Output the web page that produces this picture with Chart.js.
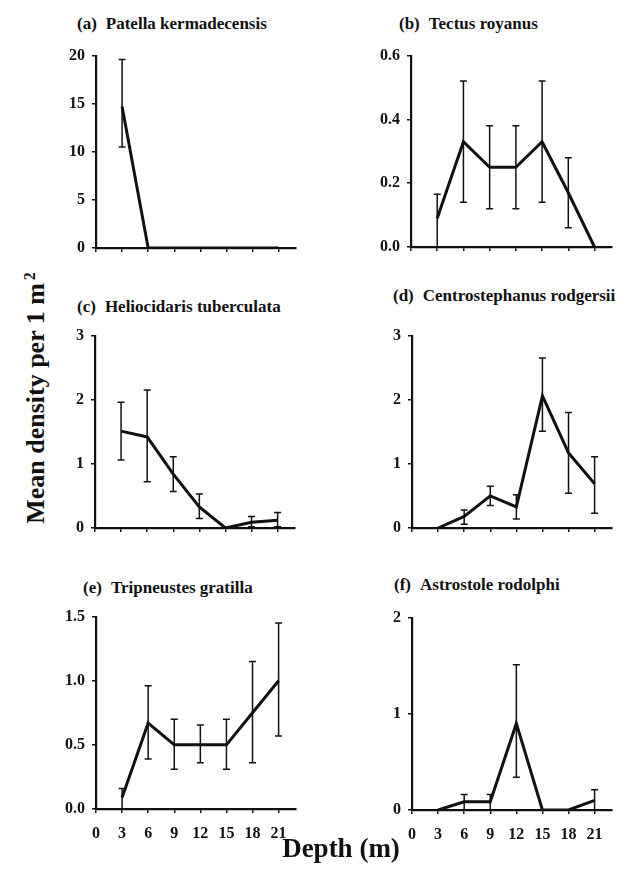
<!DOCTYPE html>
<html>
<head>
<meta charset="utf-8">
<script src="https://cdn.jsdelivr.net/npm/chart.js@4.4.0/dist/chart.umd.min.js"></script>
<style>
  body { margin: 0; background: #fff; }
  #fig { position: relative; width: 627px; height: 870px; overflow: hidden;
         font-family: "Liberation Serif", "DejaVu Serif", serif; color: #111; }
  canvas { position: absolute; }
  .title { position: absolute; font-size: 17px; font-weight: bold; white-space: nowrap; line-height: 16px; }
  .title b { margin-right: 9px; }
  #ylab { position: absolute; left: 36px; top: 398px; font-size: 26px; font-weight: bold; white-space: nowrap;
          line-height: 26px; transform: translate(-50%, -50%) rotate(-90deg); }
  #ylab sup { font-size: 16px; position: relative; top: -6px; vertical-align: top; margin-left: 3px; }
  #xlab { position: absolute; left: 341px; top: 848px; font-size: 27px; font-weight: bold; white-space: nowrap;
          line-height: 27px; transform: translate(-50%, -50%); }
</style>
</head>
<body>
<div id="fig">
  <div class="title" style="left:77px; top:16px"><b>(a)</b>Patella kermadecensis</div>
  <div class="title" style="left:399px; top:16px"><b>(b)</b>Tectus royanus</div>
  <div class="title" style="left:77px; top:299px"><b>(c)</b>Heliocidaris tuberculata</div>
  <div class="title" style="left:393px; top:288px"><b>(d)</b>Centrostephanus rodgersii</div>
  <div class="title" style="left:83px; top:580px"><b>(e)</b>Tripneustes gratilla</div>
  <div class="title" style="left:394px; top:577px"><b>(f)</b>Astrostole rodolphi</div>
  <canvas id="pa"></canvas>
  <canvas id="pb"></canvas>
  <canvas id="pc"></canvas>
  <canvas id="pd"></canvas>
  <canvas id="pe"></canvas>
  <canvas id="pf"></canvas>
  <div id="ylab">Mean density per 1 m<sup>2</sup></div>
  <div id="xlab">Depth (m)</div>
</div>
<script>
// depth in metres
const depths = [3, 6, 9, 12, 15, 18, 21];
const depthTicks = [0, 3, 6, 9, 12, 15, 18, 21];

// (a) Patella kermadecensis
const patellaMean = [14.7, 0, 0, 0, 0, 0, 0];
const patellaLow  = [10.5, null, null, null, null, null, null];
const patellaHigh = [19.6, null, null, null, null, null, null];
const patellaTicks = [0, 5, 10, 15, 20];

// (b) Tectus royanus
const tectusMean = [0.09, 0.33, 0.25, 0.25, 0.33, 0.17, 0];
const tectusLow  = [0, 0.14, 0.12, 0.12, 0.14, 0.06, null];
const tectusHigh = [0.165, 0.52, 0.38, 0.38, 0.52, 0.28, null];
const tectusTicks = [0, 0.2, 0.4, 0.6];

// (c) Heliocidaris tuberculata
const helioMean = [1.51, 1.42, 0.84, 0.33, 0, 0.09, 0.12];
const helioLow  = [1.06, 0.72, 0.57, 0.15, null, 0.02, 0.02];
const helioHigh = [1.96, 2.15, 1.11, 0.53, null, 0.18, 0.24];
const helioTicks = [0, 1, 2, 3];

// (d) Centrostephanus rodgersii
const centroMean = [0, 0.18, 0.5, 0.33, 2.06, 1.17, 0.69];
const centroLow  = [null, 0.06, 0.35, 0.14, 1.51, 0.54, 0.23];
const centroHigh = [null, 0.28, 0.65, 0.52, 2.65, 1.8, 1.11];
const centroTicks = [0, 1, 2, 3];

// (e) Tripneustes gratilla
const tripMean = [0.09, 0.67, 0.5, 0.5, 0.5, 0.75, 1.0];
const tripLow  = [0, 0.39, 0.31, 0.36, 0.31, 0.36, 0.57];
const tripHigh = [0.16, 0.96, 0.7, 0.655, 0.7, 1.15, 1.45];
const tripTicks = [0, 0.5, 1, 1.5];

// (f) Astrostole rodolphi
const astroMean = [0, 0.085, 0.085, 0.9, 0, 0, 0.1];
const astroLow  = [null, 0, 0, 0.34, null, null, 0];
const astroHigh = [null, 0.16, 0.16, 1.51, null, null, 0.21];
const astroTicks = [0, 1, 2];

const ink = '#111';
const tickFont = { family: '"Liberation Serif", serif', size: 16, weight: 'bold' };

// draws the vertical SE bars with small caps
const errorBars = {
  id: 'errorBars',
  afterDatasetsDraw(chart) {
    const { ctx, scales: { x, y } } = chart;
    const ds = chart.data.datasets[0];
    ctx.save();
    ctx.strokeStyle = ink;
    ctx.lineWidth = 1.5;
    ds.data.forEach((p, i) => {
      if (ds.low[i] == null) return;
      const px = x.getPixelForValue(p.x);
      const yl = y.getPixelForValue(ds.low[i]);
      const yh = y.getPixelForValue(ds.high[i]);
      ctx.beginPath();
      ctx.moveTo(px, yl); ctx.lineTo(px, yh);
      ctx.moveTo(px - 3.5, yh); ctx.lineTo(px + 3.5, yh);
      ctx.moveTo(px - 3.5, yl); ctx.lineTo(px + 3.5, yl);
      ctx.stroke();
    });
    ctx.restore();
  }
};

function makePanel(id, box, mean, low, high, yTicks, decimals, showX) {
  const yW = 44, xH = 40, padT = 12, padR = 10;
  const canvas = document.getElementById(id);
  canvas.width = box.r - box.l + yW + padR;
  canvas.height = box.b - box.t + padT + xH;
  canvas.style.left = (box.l - yW) + 'px';
  canvas.style.top = (box.t - padT) + 'px';

  new Chart(canvas, {
    type: 'line',
    data: {
      datasets: [{
        data: depths.map((d, i) => ({ x: d, y: mean[i] })),
        low: low,
        high: high,
        borderColor: ink,
        borderWidth: 3,
        pointRadius: 0,
        tension: 0
      }]
    },
    options: {
      responsive: false,
      animation: false,
      layout: { padding: { top: padT, right: padR, left: 0, bottom: 0 } },
      plugins: { legend: { display: false }, tooltip: { enabled: false } },
      scales: {
        x: {
          type: 'linear', min: 0, max: 23,
          afterBuildTicks: s => { s.ticks = depthTicks.map(v => ({ value: v })); },
          afterFit: s => { s.height = xH; },
          grid: { drawOnChartArea: false, tickLength: 4, color: ink, lineWidth: 1.5 },
          border: { color: ink, width: 2.2 },
          ticks: { display: showX, font: tickFont, color: ink, padding: 11, maxRotation: 0, autoSkip: false }
        },
        y: {
          min: 0, max: yTicks[yTicks.length - 1],
          afterBuildTicks: s => { s.ticks = yTicks.map(v => ({ value: v })); },
          afterFit: s => { s.width = yW; },
          grid: { drawOnChartArea: false, tickLength: 4, color: ink, lineWidth: 1.5 },
          border: { color: ink, width: 2.2 },
          ticks: { font: tickFont, color: ink, padding: 7, callback: v => v.toFixed(decimals) }
        }
      }
    },
    plugins: [errorBars]
  });
}

makePanel('pa', { l: 96, t: 51, r: 296, b: 248 }, patellaMean, patellaLow, patellaHigh, patellaTicks, 0, false);
makePanel('pb', { l: 411, t: 51, r: 612, b: 247 }, tectusMean, tectusLow, tectusHigh, tectusTicks, 1, false);
makePanel('pc', { l: 95, t: 331, r: 295, b: 528 }, helioMean, helioLow, helioHigh, helioTicks, 0, false);
makePanel('pd', { l: 412, t: 331, r: 612, b: 528 }, centroMean, centroLow, centroHigh, centroTicks, 0, false);
makePanel('pe', { l: 96, t: 612, r: 296, b: 809 }, tripMean, tripLow, tripHigh, tripTicks, 1, true);
makePanel('pf', { l: 412, t: 613, r: 612, b: 810 }, astroMean, astroLow, astroHigh, astroTicks, 0, true);
</script>
</body>
</html>
